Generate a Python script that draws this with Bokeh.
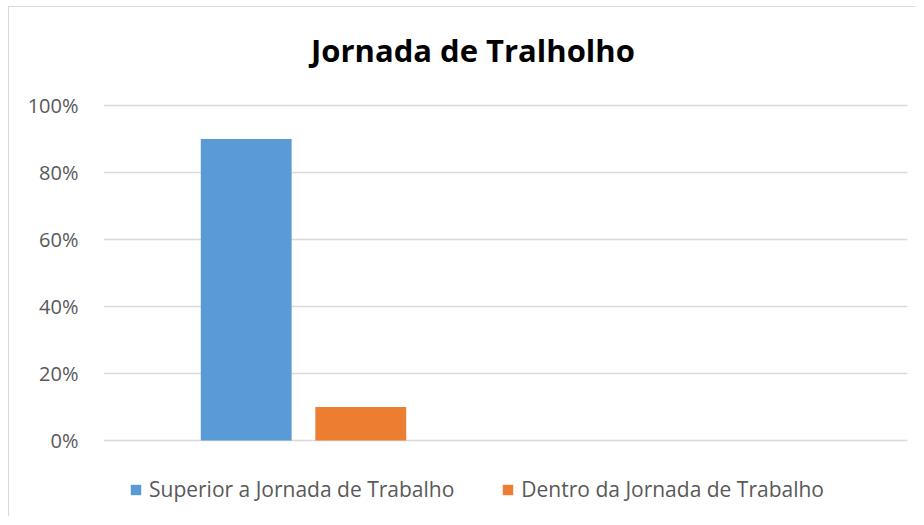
from bokeh.plotting import figure
from bokeh.models import (ColumnDataSource, FactorRange, Range1d, FixedTicker,
                          NumeralTickFormatter, Legend, LegendItem, Label)
from bokeh.transform import dodge
from bokeh.embed import file_html
from bokeh.resources import INLINE

# ---- data ----
categories = ["Grupo 1", "Grupo 2"]
series_names = ["Superior a Jornada de Trabalho", "Dentro da Jornada de Trabalho"]
superior = [0.90, 0.0]
dentro = [0.10, 0.0]
y_ticks = [0.0, 0.2, 0.4, 0.6, 0.8, 1.0]
title_text = "Jornada de Tralholho"

BLUE = "#5B9BD5"
ORANGE = "#ED7D31"
GRAY = "#595959"
GRID = "#D9D9D9"
FONT = "Open Sans"

source = ColumnDataSource(data=dict(cat=categories, superior=superior, dentro=dentro))

# the frame fills the whole canvas so that title and legend (drawn inside it) are not clipped
PX_PER_UNIT = 335.0
Y_BOTTOM = -77 / PX_PER_UNIT
Y_TOP = 1 + 98 / PX_PER_UNIT

p = figure(
    x_range=FactorRange(*categories, range_padding=0, factor_padding=0),
    y_range=Range1d(Y_BOTTOM, Y_TOP),
    width=907, height=510,
    output_backend="svg", toolbar_location=None,
    min_border_left=94, min_border_right=9,
    min_border_top=0, min_border_bottom=0,
)
p.styles = {"border-left": "1px solid #D9D9D9", "border-top": "1px solid #D9D9D9",
            "margin-left": "8px", "margin-top": "6px"}

title = Label(x=0.919, y=1 + 56 / PX_PER_UNIT, text=title_text,
              text_font=FONT, text_font_style="bold", text_font_size="31px",
              text_color="#000000", text_align="center", text_baseline="alphabetic")
p.add_layout(title)

r1 = p.vbar(x=dodge("cat", -0.145, range=p.x_range), top="superior", bottom=0, width=0.226,
            source=source, fill_color=BLUE, line_color=None)
r2 = p.vbar(x=dodge("cat", 0.14, range=p.x_range), top="dentro", bottom=0, width=0.226,
            source=source, fill_color=ORANGE, line_color=None)

p.xaxis.visible = False
p.xgrid.visible = False
p.ygrid.grid_line_color = GRID
p.ygrid.grid_line_width = 1.5
p.ygrid.ticker = FixedTicker(ticks=y_ticks)
p.outline_line_color = None

ax = p.yaxis[0]
ax.ticker = FixedTicker(ticks=y_ticks)
ax.formatter = NumeralTickFormatter(format="0%")
ax.axis_line_color = None
ax.major_tick_line_color = None
ax.minor_tick_line_color = None
ax.major_label_text_font = FONT
ax.major_label_text_font_size = "20px"
ax.major_label_text_color = GRAY
ax.major_label_standoff = 19

legend = Legend(
    items=[LegendItem(label=series_names[0], renderers=[r1]),
           LegendItem(label=series_names[1], renderers=[r2])],
    orientation="horizontal",
    location=(26, 14),
    glyph_width=13, glyph_height=13,
    label_standoff=7, spacing=47,
    label_text_font=FONT, label_text_font_size="21px", label_text_color=GRAY,
    label_height=20,
    padding=0, margin=0,
    border_line_color=None, background_fill_alpha=0,
)
p.add_layout(legend, "center")

open("out.html", "w").write(file_html(p, INLINE))
